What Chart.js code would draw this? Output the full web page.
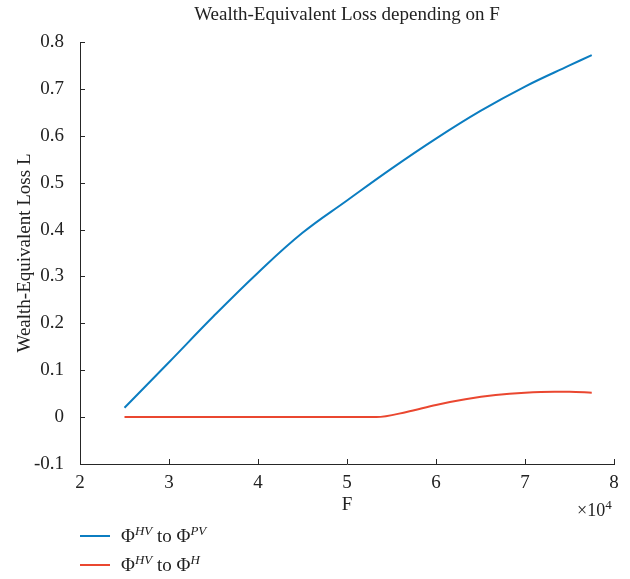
<!DOCTYPE html>
<html>
<head>
<meta charset="utf-8">
<script src="https://cdn.jsdelivr.net/npm/chart.js@4"></script>
<style>
body{margin:0;background:#fff;}
#wrap{position:relative;width:630px;height:579px;}
#legend{position:absolute;left:80px;top:521px;font-family:"Liberation Serif",serif;font-size:19px;color:#222;}
.row{display:flex;align-items:center;height:29px;}
.swatch{width:30px;height:2px;margin-right:11px;}
sup{font-style:italic;font-size:13px;}
#exp{position:absolute;left:577px;top:497px;font-family:"Liberation Serif",serif;font-size:18px;color:#222;}
</style>
</head>
<body>
<div id="wrap">
<canvas id="chart" width="630" height="579"></canvas>
<div id="exp">&times;10<sup style="font-style:normal">4</sup></div>
<div id="legend">
  <div class="row"><span class="swatch" style="background:#0b7dc1"></span><span>&Phi;<sup>HV</sup> to &Phi;<sup>PV</sup></span></div>
  <div class="row"><span class="swatch" style="background:#ea4730"></span><span>&Phi;<sup>HV</sup> to &Phi;<sup>H</sup></span></div>
</div>
</div>
<script>
// F values in units of 10^4
let fBlue=[2.5,3,3.5,4,4.5,5,5.5,6,6.5,7,7.5,7.75];
let lossPV=[0.02,0.117,0.215,0.308,0.393,0.462,0.53,0.594,0.653,0.705,0.75,0.772];

let fRed=[2.5,3,4,5,5.33,5.67,6,6.33,6.67,7,7.33,7.5,7.75];
let lossH=[0,0,0,0,0,0.011,0.026,0.038,0.047,0.052,0.054,0.054,0.052];

let chartTitle="Wealth-Equivalent Loss depending on F";
let xLabel="F";
let yLabel="Wealth-Equivalent Loss L";

let serif="'Liberation Serif', serif";
let axisColor="#262626";

function pts(xs,ys){
    return xs.map((x,i)=>({x:x,y:ys[i]}));
}

// inward tick marks + title centred over the plot area
let extras={
    id:"extras",
    afterDraw(chart){
        let ctx=chart.ctx;
        let area=chart.chartArea;
        let xs=chart.scales.x, ys=chart.scales.y;
        ctx.save();
        ctx.strokeStyle=axisColor;
        ctx.lineWidth=1;
        xs.ticks.forEach(t=>{
            let px=Math.round(xs.getPixelForValue(t.value))+0.5;
            ctx.beginPath();
            ctx.moveTo(px,area.bottom);
            ctx.lineTo(px,area.bottom-5);
            ctx.stroke();
        });
        ys.ticks.forEach(t=>{
            let py=Math.round(ys.getPixelForValue(t.value))+0.5;
            ctx.beginPath();
            ctx.moveTo(area.left,py);
            ctx.lineTo(area.left+5,py);
            ctx.stroke();
        });
        ctx.fillStyle="#222";
        ctx.font="19px "+serif;
        ctx.textAlign="center";
        ctx.textBaseline="middle";
        ctx.fillText(chartTitle,(area.left+area.right)/2,15);
        ctx.restore();
    }
};

new Chart(document.getElementById("chart"),{
    type:"line",
    data:{
        datasets:[{
            data:pts(fBlue,lossPV),
            borderColor:"#0b7dc1",
            borderWidth:2,
            pointRadius:0,
            tension:0.4
        },{
            data:pts(fRed,lossH),
            borderColor:"#ea4730",
            borderWidth:2,
            pointRadius:0,
            cubicInterpolationMode:"monotone"
        }]
    },
    options:{
        responsive:false,
        animation:false,
        layout:{padding:{top:42,right:16,bottom:59,left:10}},
        plugins:{legend:{display:false},tooltip:{enabled:false}},
        scales:{
            x:{
                type:"linear",
                min:2,max:8,
                grid:{display:false},
                border:{display:true,color:axisColor,width:1},
                ticks:{stepSize:1,color:"#222",font:{family:serif,size:19},padding:0},
                title:{display:true,text:xLabel,color:"#222",font:{family:serif,size:19},padding:{top:0}},
                afterFit(s){ s.height=56; }
            },
            y:{
                min:-0.1,max:0.8,
                grid:{display:false},
                border:{display:true,color:axisColor,width:1},
                ticks:{stepSize:0.1,color:"#222",font:{family:serif,size:19},padding:8,
                    callback:v=>String(+v.toFixed(1))},
                title:{display:true,text:yLabel,color:"#222",font:{family:serif,size:19},padding:{bottom:4}},
                afterFit(s){ s.width=70; }
            }
        }
    },
    plugins:[extras]
});
</script>
</body>
</html>
